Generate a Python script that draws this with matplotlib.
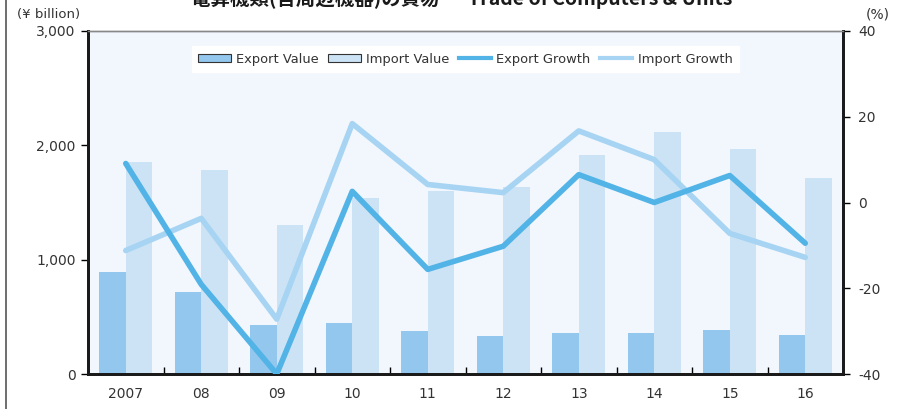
import numpy as np
import matplotlib.pyplot as plt
from matplotlib.lines import Line2D

years = ['2007', '08', '09', '10', '11', '12', '13', '14', '15', '16']
export_value = [889, 715, 427, 445, 375, 331, 357, 357, 384, 340]
import_value = [1857, 1787, 1299, 1543, 1604, 1639, 1918, 2119, 1970, 1717]
export_growth = [9.1, -19.1, -40.0, 2.6, -15.6, -10.2, 6.5, 0.0, 6.3, -9.5]
import_growth = [-11.2, -3.7, -27.2, 18.4, 4.2, 2.3, 16.7, 10.0, -7.2, -12.8]

c_exp_bar = '#93C7ED'
c_imp_bar = '#CCE3F5'
c_exp_line = '#52B3E6'
c_imp_line = '#A6D4F2'

plt.rcParams['font.family'] = ['DejaVu Sans']
plt.rcParams['font.size'] = 10

fig = plt.figure(figsize=(9.05, 4.09), dpi=100)
ax = fig.add_axes([88 / 905, 1 - 374 / 409, (843 - 88) / 905, (374 - 31) / 409])
ax.set_facecolor('#F2F6FD')

x = np.arange(len(years))
w = 0.35
ax.bar(x - w / 2, export_value, w, color=c_exp_bar, zorder=2)
ax.bar(x + w / 2, import_value, w, color=c_imp_bar, zorder=2)
ax.set_xlim(-0.5, len(years) - 0.5)
ax.set_ylim(0, 3000)
ax.set_yticks([0, 1000, 2000, 3000])
ax.set_yticklabels(['0', '1,000', '2,000', '3,000'], color='#333333')
ax.set_xticks(x)
ax.set_xticklabels(years, color='#333333')
ax.set_xticks(np.arange(0.5, len(years) - 0.5, 1), minor=True)
ax.tick_params(axis='x', which='major', length=0, pad=9)
ax.tick_params(axis='x', which='minor', direction='in', length=5, width=1)
ax.tick_params(axis='y', direction='out', length=5, width=1, pad=4)

ax2 = ax.twinx()
ax2.plot(x, import_growth, color=c_imp_line, lw=4, solid_capstyle='round', zorder=3)
ax2.plot(x, export_growth, color=c_exp_line, lw=4, solid_capstyle='round', zorder=4)
ax2.set_ylim(-40, 40)
ax2.set_yticks([-40, -20, 0, 20, 40])
ax2.set_yticklabels(['-40', '-20', '0', '20', '40'], color='#333333')
ax2.tick_params(axis='y', direction='out', length=5, width=1, pad=6)

for a in (ax, ax2):
    for s in ('left', 'right', 'bottom'):
        a.spines[s].set_linewidth(2)
        a.spines[s].set_color('#1a1a1a')
    a.spines['top'].set_color('#888888')
    a.spines['top'].set_linewidth(1)

handles = [
    plt.Rectangle((0, 0), 1, 1, facecolor=c_exp_bar, edgecolor='#333333', lw=0.8),
    plt.Rectangle((0, 0), 1, 1, facecolor=c_imp_bar, edgecolor='#333333', lw=0.8),
    Line2D([], [], color=c_exp_line, lw=3),
    Line2D([], [], color=c_imp_line, lw=3),
]
labels = ['Export Value', 'Import Value', 'Export Growth', 'Import Growth']
leg = ax2.legend(handles, labels, loc='upper center', bbox_to_anchor=(0.5, 0.975), ncol=4,
                 frameon=True, fancybox=False, edgecolor='white', framealpha=1,
                 handlelength=2.5, handleheight=0.5, handletextpad=0.4, columnspacing=0.7,
                 borderpad=0.5, fontsize=9.4)
for t in leg.get_texts():
    t.set_color('#333333')

fig.text(80 / 905, 1 - 18 / 409, '(¥ billion)', ha='right', va='baseline', color='#333333', fontsize=9.5)
fig.text(878 / 905, 1 - 18 / 409, '(%)', ha='center', va='baseline', color='#333333', fontsize=10)
fig.text(462 / 905, 1 - 5 / 409, '電算機類(含周辺機器)の貿易 － Trade of Computers & Units',
         ha='center', va='baseline', fontsize=14, fontweight='bold', color='#1a1a1a',
         family=['Noto Sans CJK JP', 'DejaVu Sans'])

fig.add_artist(Line2D([6 / 905, 6 / 905], [0, 1], color='#555555', lw=1.2))

fig.savefig('out.png', dpi=100)
